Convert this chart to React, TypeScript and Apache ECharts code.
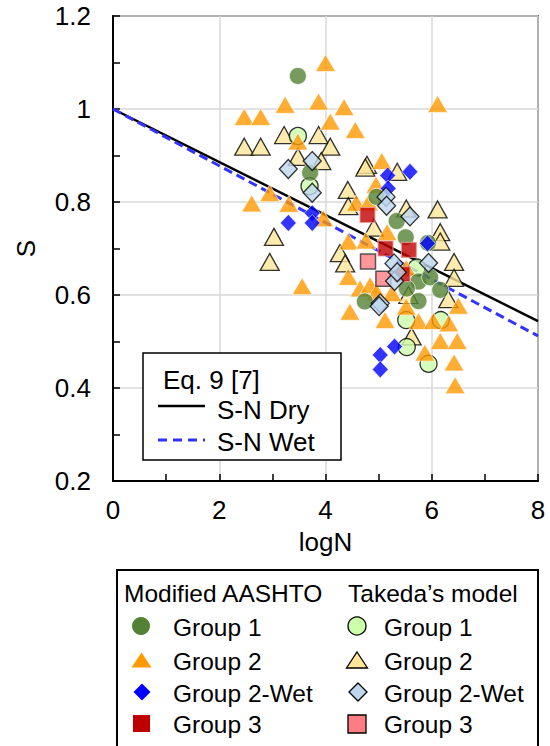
import React, { useEffect, useRef } from "react";
import * as echarts from "echarts";

const FONT = "'Liberation Sans', Arial, Helvetica, sans-serif";

// Axis ticks
const xTicks = [0, 2, 4, 6, 8];
const yTicks = [0.2, 0.4, 0.6, 0.8, 1.0, 1.2];

// Eq. 9 [7] lines (logN, S)
const snDry: number[][] = [[0, 1.0], [8, 0.544]];
const snWet: number[][] = [[0, 1.0], [8, 0.512]];

// Modified AASHTO
const modG1: number[][] = [
  [3.48, 1.071], [3.71, 0.863], [4.96, 0.811], [5.34, 0.759], [5.51, 0.724], [5.93, 0.712],
  [5.75, 0.629], [5.97, 0.638], [5.53, 0.614], [6.16, 0.611], [5.75, 0.587], [4.74, 0.586],
];
const modG2: number[][] = [
  [2.47, 0.983], [2.78, 0.983], [3.24, 1.009], [3.87, 1.016], [4.0, 1.099], [4.35, 1.004],
  [6.11, 1.011], [4.09, 0.973], [4.56, 0.955], [3.48, 0.93], [2.61, 0.797], [2.95, 0.819],
  [3.31, 0.796], [3.56, 0.619], [3.96, 0.765], [5.06, 0.888], [4.95, 0.837], [4.58, 0.798],
  [4.81, 0.799], [4.43, 0.715], [4.76, 0.717], [5.16, 0.735], [4.43, 0.639], [4.65, 0.614],
  [4.84, 0.621], [4.96, 0.607], [5.25, 0.604], [5.52, 0.575], [6.5, 0.577], [4.46, 0.564],
  [5.12, 0.546], [5.75, 0.544], [6.03, 0.544], [6.32, 0.539], [6.16, 0.501], [6.48, 0.501],
  [5.87, 0.476], [6.42, 0.455], [6.44, 0.406], [5.52, 0.658],
];
const modG2Wet: number[][] = [
  [3.3, 0.755], [3.75, 0.776], [3.75, 0.755], [5.17, 0.857], [5.59, 0.865], [5.18, 0.829],
  [5.92, 0.711], [5.3, 0.489], [5.03, 0.471], [5.03, 0.44],
];
const modG3: number[][] = [[4.79, 0.772], [5.13, 0.7], [5.57, 0.697], [5.45, 0.645]];

// Takeda's model
const takG1: number[][] = [
  [3.48, 0.942], [3.7, 0.834], [5.72, 0.659], [5.52, 0.546], [6.17, 0.546], [5.53, 0.488], [5.94, 0.452],
];
const takG2: number[][] = [
  [2.47, 0.919], [2.78, 0.919], [3.22, 0.944], [3.87, 0.944], [3.48, 0.897], [4.09, 0.919],
  [3.92, 0.888], [3.03, 0.725], [2.95, 0.671], [4.78, 0.88], [4.75, 0.874], [5.35, 0.865],
  [4.42, 0.826], [4.43, 0.791], [5.52, 0.786], [6.11, 0.784], [4.91, 0.745], [6.16, 0.735],
  [6.16, 0.715], [4.27, 0.69], [4.37, 0.668], [6.42, 0.671], [6.42, 0.637], [6.31, 0.591],
  [5.62, 0.511], [5.56, 0.6],
];
const takG2Wet: number[][] = [
  [3.3, 0.871], [3.75, 0.888], [3.75, 0.82], [5.14, 0.811], [5.15, 0.792], [5.59, 0.769],
  [5.29, 0.668], [5.94, 0.669], [5.3, 0.63], [5.03, 0.582], [5.01, 0.576], [5.35, 0.649],
];
const takG3: number[][] = [[4.8, 0.672], [5.09, 0.635]];

const C = {
  g1: "#548235",
  g2: "#FF9900",
  g2w: "#0000FF",
  g3: "#C00000",
  t1: "#CCFFAA",
  t2: "#FFE699",
  t2w: "#BDD7EE",
  t3: "#FF7C80",
  wet: "#3333FF",
};

function tri(cx: number, cy: number, w: number, h: number) {
  return [[cx, cy - h / 2], [cx + w / 2, cy + h / 2], [cx - w / 2, cy + h / 2]];
}
function dia(cx: number, cy: number, w: number, h: number) {
  return [[cx, cy - h / 2], [cx + w / 2, cy], [cx, cy + h / 2], [cx - w / 2, cy]];
}

export default function App() {
  const ref = useRef<HTMLDivElement>(null);
  useEffect(() => {
    if (!ref.current) return;
    const chart = echarts.init(ref.current, undefined, { renderer: "svg" });
    const txt = (text: string, x: number, y: number, size = 24) => ({
      type: "text",
      x,
      y,
      z: 101,
      style: { text, fontSize: size, fontFamily: FONT, fill: "#000", align: "left", verticalAlign: "middle" },
    });
    const modBorder = { borderColor: "#ffffff", borderWidth: 0.8 };
    const takBorder = { borderColor: "#000000", borderWidth: 1.3 };
    const option: any = {
      animation: false,
      backgroundColor: "#ffffff",
      grid: { left: 113, top: 16, width: 425, height: 465, show: true, borderColor: "#000", borderWidth: 1.5, backgroundColor: "transparent" },
      xAxis: {
        type: "value",
        min: xTicks[0],
        max: xTicks[xTicks.length - 1],
        interval: 2,
        name: "logN",
        nameLocation: "middle",
        nameGap: 48,
        nameTextStyle: { fontSize: 26, fontFamily: FONT, color: "#000" },
        axisLine: { lineStyle: { color: "#000", width: 2 } },
        axisTick: { inside: true, length: 7, lineStyle: { color: "#000", width: 1.5 } },
        minorTick: { show: true, splitNumber: 2, length: 7, lineStyle: { color: "#000", width: 1.5 } },
        splitLine: { show: true, lineStyle: { color: "#D9D9D9", width: 1.5 } },
        axisLabel: { fontSize: 26, fontFamily: FONT, color: "#000", margin: 16 },
      },
      yAxis: {
        type: "value",
        min: yTicks[0],
        max: yTicks[yTicks.length - 1],
        interval: 0.2,
        name: "S",
        nameLocation: "middle",
        nameGap: 74,
        nameTextStyle: { fontSize: 26, fontFamily: FONT, color: "#000" },
        axisLine: { lineStyle: { color: "#000", width: 2 } },
        axisTick: { inside: true, length: 7, lineStyle: { color: "#000", width: 1.5 } },
        minorTick: { show: true, splitNumber: 2, length: 7, lineStyle: { color: "#000", width: 1.5 } },
        splitLine: { show: true, lineStyle: { color: "#D9D9D9", width: 1.5 } },
        axisLabel: {
          fontSize: 26,
          fontFamily: FONT,
          color: "#000",
          margin: 22,
          formatter: (v: number) => String(+v.toFixed(1)),
        },
      },
      series: [
        { name: "S-N Dry", type: "line", data: snDry, symbol: "none", lineStyle: { color: "#000", width: 2.5 }, z: 1 },
        { name: "S-N Wet", type: "line", data: snWet, symbol: "none", lineStyle: { color: C.wet, width: 3, type: [9, 5] }, z: 1 },
        { name: "Takeda Group 2", type: "scatter", data: takG2, symbol: "triangle", symbolSize: [19, 17], itemStyle: { color: C.t2, ...takBorder }, z: 2 },
        { name: "Takeda Group 1", type: "scatter", data: takG1, symbol: "circle", symbolSize: 17, itemStyle: { color: C.t1, ...takBorder }, z: 2 },
        { name: "Modified Group 2", type: "scatter", data: modG2, symbol: "triangle", symbolSize: [20, 17], itemStyle: { color: C.g2, ...modBorder }, z: 2 },
        { name: "Modified Group 1", type: "scatter", data: modG1, symbol: "circle", symbolSize: 17, itemStyle: { color: C.g1, ...modBorder }, z: 2 },
        { name: "Modified Group 3", type: "scatter", data: modG3, symbol: "rect", symbolSize: 15, itemStyle: { color: C.g3, borderColor: "#E89A9A", borderWidth: 1.2 }, z: 2 },
        { name: "Takeda Group 3", type: "scatter", data: takG3, symbol: "rect", symbolSize: 15, itemStyle: { color: C.t3, borderColor: "#333", borderWidth: 1.5 }, z: 2 },
        { name: "Modified Group 2-Wet", type: "scatter", data: modG2Wet, symbol: "diamond", symbolSize: [16, 17], itemStyle: { color: C.g2w, ...modBorder }, z: 2 },
        { name: "Takeda Group 2-Wet", type: "scatter", data: takG2Wet, symbol: "diamond", symbolSize: [18, 19], itemStyle: { color: C.t2w, ...takBorder }, z: 2 },
      ],
      graphic: [
        // inner legend
        { type: "rect", z: 100, shape: { x: 143, y: 353, width: 198, height: 107 }, style: { fill: "#fff", stroke: "#000", lineWidth: 1.5 } },
        txt("Eq. 9 [7]", 163, 380, 26),
        { type: "line", z: 101, shape: { x1: 158, y1: 406, x2: 205, y2: 406 }, style: { stroke: "#000", lineWidth: 2.5 } },
        txt("S-N Dry", 217, 410, 26),
        { type: "line", z: 101, shape: { x1: 158, y1: 440, x2: 205, y2: 440 }, style: { stroke: C.wet, lineWidth: 3, lineDash: [9, 6] } },
        txt("S-N Wet", 217, 442, 26),
        // bottom legend
        { type: "rect", z: 100, shape: { x: 117, y: 570, width: 421, height: 220 }, style: { fill: "#fff", stroke: "#000", lineWidth: 2 } },
        txt("Modified AASHTO", 124, 593, 24.5),
        txt("Takeda\u2019s model", 348, 593, 24.5),
        { type: "circle", z: 101, shape: { cx: 141, cy: 626, r: 9 }, style: { fill: C.g1 } },
        txt("Group 1", 173, 627, 24.5),
        { type: "polygon", z: 101, shape: { points: tri(141.5, 660, 20, 15) }, style: { fill: C.g2 } },
        txt("Group 2", 173, 661, 24.5),
        { type: "polygon", z: 101, shape: { points: dia(142, 692, 17, 17) }, style: { fill: C.g2w } },
        txt("Group 2-Wet", 173, 693, 24.5),
        { type: "rect", z: 101, shape: { x: 133, y: 715, width: 17, height: 17 }, style: { fill: C.g3 } },
        txt("Group 3", 173, 724, 24.5),
        { type: "circle", z: 101, shape: { cx: 357, cy: 626, r: 9 }, style: { fill: C.t1, stroke: "#000", lineWidth: 1.3 } },
        txt("Group 1", 384, 627, 24.5),
        { type: "polygon", z: 101, shape: { points: tri(357, 660, 21, 16) }, style: { fill: C.t2, stroke: "#000", lineWidth: 1.3 } },
        txt("Group 2", 384, 661, 24.5),
        { type: "polygon", z: 101, shape: { points: dia(358, 692, 18, 18) }, style: { fill: C.t2w, stroke: "#000", lineWidth: 1.3 } },
        txt("Group 2-Wet", 384, 693, 24.5),
        { type: "rect", z: 101, shape: { x: 348, y: 715, width: 18, height: 18 }, style: { fill: C.t3, stroke: "#000", lineWidth: 1.3 } },
        txt("Group 3", 384, 724, 24.5),
      ],
    };
    chart.setOption(option);
    return () => chart.dispose();
  }, []);
  return <div ref={ref} style={{ position: "fixed", left: 0, top: 0, width: 550, height: 746, background: "#fff" }} />;
}
